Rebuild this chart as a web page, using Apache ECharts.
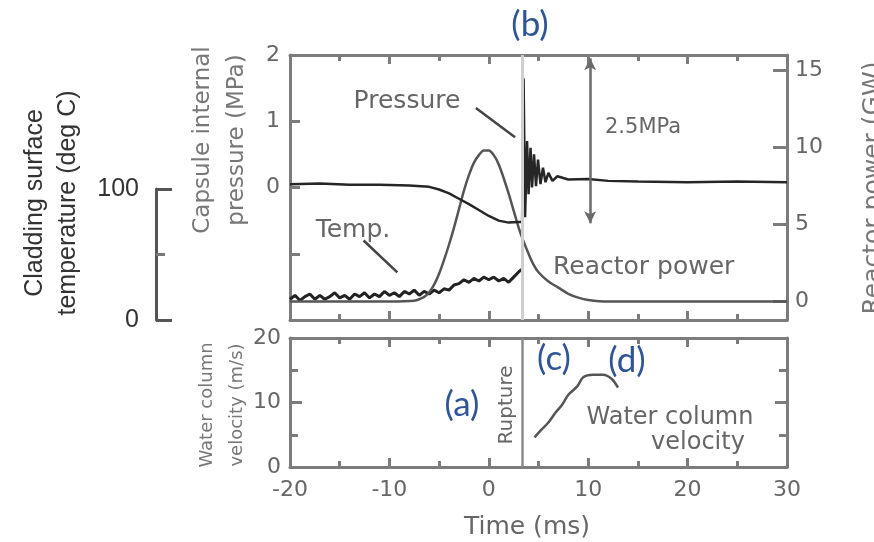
<!DOCTYPE html>
<html><head><meta charset="utf-8">
<script src="https://cdn.jsdelivr.net/npm/echarts@6/dist/echarts.min.js"></script>
<style>html,body{margin:0;padding:0;background:#fff}#c{width:874px;height:542px}</style>
</head><body><div id="c"></div>
<script>
// ---- data (time in ms) ----
const timeTickLabels = [-20, -10, 0, 10, 20, 30];
const pressureTicks = [0, 1, 2];
const powerTicks = [0, 5, 10, 15];
const velocityTicks = [0, 10, 20];
const tempBracketTicks = [0, 100];

// Capsule internal pressure (MPa): [time, value]
const pressureData = [
  [-20, 0.05], [-17, 0.06], [-14, 0.04], [-11, 0.04], [-8, 0.03], [-6, 0.01], [-5, -0.03],
  [-4, -0.09], [-3, -0.17], [-2, -0.25], [-1, -0.34], [0, -0.43], [1, -0.5], [2, -0.53],
  [3, -0.52], [3.35, -0.52], [3.5, 1.65], [3.65, -0.45], [3.85, 0.7], [4.0, -0.1],
  [4.2, 0.6], [4.35, 0.0], [4.55, 0.5], [4.75, 0.02], [4.95, 0.42], [5.2, 0.05],
  [5.45, 0.3], [5.7, 0.08], [6.0, 0.22], [6.4, 0.1], [6.9, 0.17], [8, 0.12], [10, 0.13],
  [12, 0.1], [15, 0.09], [20, 0.08], [25, 0.09], [30, 0.08]
];
// Reactor power (GW): [time, value]
const powerData = [
  [-20, 0], [-10, 0], [-7.5, 0.05], [-6.5, 0.3], [-6, 0.6], [-5.5, 1.1], [-5, 1.8], [-4.5, 2.7],
  [-4, 3.7], [-3.5, 4.8], [-3, 6.0], [-2.5, 7.2], [-2, 8.2], [-1.5, 9.0], [-1, 9.5], [-0.5, 9.8],
  [0, 9.8], [0.5, 9.5], [1, 8.9], [1.5, 8.0], [2, 7.0], [2.5, 5.9], [3, 4.8], [3.5, 3.9],
  [4, 3.1], [4.5, 2.4], [5, 1.9], [6, 1.3], [7, 0.9], [8, 0.5], [9, 0.25], [10, 0.1], [12, 0], [30, 0]
];
// Cladding surface temperature (deg C): [time, value]
const tempData = [
  [-20, 16], [-19.5, 19], [-19, 15], [-18.5, 18], [-18, 20], [-17.5, 16], [-17, 19], [-16.5, 16],
  [-16, 18], [-15.5, 21], [-15, 17], [-14.5, 19], [-14, 16], [-13.5, 20], [-13, 18], [-12.5, 21],
  [-12, 17], [-11.5, 20], [-11, 18], [-10.5, 22], [-10, 19], [-9.5, 21], [-9, 18], [-8.5, 22],
  [-8, 20], [-7.5, 23], [-7, 19], [-6.5, 22], [-6, 20], [-5.5, 23], [-5, 21], [-4.5, 24],
  [-4, 23], [-3.5, 27], [-3, 28], [-2.5, 31], [-2, 29], [-1.5, 32], [-1, 30], [-0.5, 33],
  [0, 31], [0.5, 33], [1, 30], [1.5, 32], [2, 29], [2.5, 33], [3, 37], [3.3, 39]
];
// Water column velocity (m/s): [time, value]
const velocityData = [
  [4.6, 4.6], [5.3, 5.8], [6.0, 6.9], [6.7, 8.4], [7.4, 9.7], [8.0, 11.2], [8.9, 12.5],
  [9.5, 13.9], [10.5, 14.3], [11.5, 14.3], [12.4, 13.6], [13.0, 12.3]
];
const ruptureTime = 3.4;
// 2.5 MPa scale arrow: time, pressure from/to
const arrowTime = 10.2;
const arrowRange = [1.95, -0.54];

// ---- styles ----
const AX = '#7c7c7c';
const TXT = '#666';
const BLUE = '#2f5597';
const tickFont = {fontFamily: 'DejaVu Sans', fontSize: 22, color: TXT};

function xAxisCfg(grid, pos, labels) {
  return {
    type: 'value', gridIndex: grid, position: pos, min: -20, max: 30, interval: 10,
    axisLine: {show: true, onZero: false, lineStyle: {color: AX, width: 3}},
    axisTick: {show: true, inside: true, length: 9, lineStyle: {color: AX, width: 3}},
    minorTick: {show: true, splitNumber: 2, length: 6, lineStyle: {color: AX, width: 3}},
    splitLine: {show: false},
    axisLabel: labels ? Object.assign({show: true, margin: 12,
      customValues: timeTickLabels}, tickFont) : {show: false}
  };
}

const option = {
  animation: false,
  backgroundColor: '#fff',
  grid: [
    {left: 290, top: 55, width: 497, height: 265},
    {left: 290, top: 338, width: 497, height: 129},
    {left: 156, top: 189, width: 20, height: 131}
  ],
  xAxis: [
    xAxisCfg(0, 'bottom', false),
    xAxisCfg(0, 'top', false),
    xAxisCfg(1, 'bottom', true),
    xAxisCfg(1, 'top', false),
    {type: 'value', gridIndex: 2, show: false, min: 0, max: 1}
  ],
  yAxis: [
    { // pressure
      type: 'value', gridIndex: 0, position: 'left', min: -2, max: 2, interval: 1,
      axisLine: {show: true, onZero: false, lineStyle: {color: AX, width: 3}},
      axisTick: {show: true, inside: true, length: 10, lineStyle: {color: AX, width: 3}},
      splitLine: {show: false},
      axisLabel: Object.assign({margin: 10, customValues: pressureTicks}, tickFont)
    },
    { // reactor power
      type: 'value', gridIndex: 0, position: 'right', min: -1.2, max: 16,
      axisLine: {show: true, onZero: false, lineStyle: {color: AX, width: 3}},
      axisTick: {show: true, inside: true, length: 14, customValues: powerTicks, lineStyle: {color: AX, width: 3}},
      splitLine: {show: false},
      axisLabel: Object.assign({margin: 8, customValues: powerTicks}, tickFont)
    },
    { // temperature (hidden, scale only)
      type: 'value', gridIndex: 0, show: false, min: 0, max: 204,
      axisLine: {onZero: false}
    },
    { // water column velocity
      type: 'value', gridIndex: 1, position: 'left', min: 0, max: 20, interval: 10,
      axisLine: {show: true, onZero: false, lineStyle: {color: AX, width: 3}},
      axisTick: {show: true, inside: true, length: 12, lineStyle: {color: AX, width: 3}},
      minorTick: {show: true, splitNumber: 2, length: 8, lineStyle: {color: AX, width: 3}},
      splitLine: {show: false},
      axisLabel: Object.assign({margin: 9, customValues: velocityTicks}, tickFont)
    },
    {
      type: 'value', gridIndex: 1, position: 'right', min: 0, max: 20, interval: 10,
      axisLine: {show: true, onZero: false, lineStyle: {color: AX, width: 3}},
      axisTick: {show: true, inside: true, length: 12, lineStyle: {color: AX, width: 3}},
      minorTick: {show: true, splitNumber: 2, length: 8, lineStyle: {color: AX, width: 3}},
      splitLine: {show: false},
      axisLabel: {show: false}
    },
    { // cladding temperature bracket 0-100
      type: 'value', gridIndex: 2, position: 'left', min: 0, max: 100, interval: 100,
      axisLine: {show: true, onZero: false, lineStyle: {color: '#555', width: 3}},
      axisTick: {show: true, inside: true, length: 16, lineStyle: {color: '#555', width: 3}},
      minorTick: {show: true, splitNumber: 2, length: 9, lineStyle: {color: '#777', width: 3}},
      splitLine: {show: false},
      axisLabel: {margin: 17, fontFamily: 'Liberation Sans', fontSize: 25, color: '#333',
        customValues: tempBracketTicks}
    }
  ],
  series: [
    {
      name: 'Temp.', type: 'line', xAxisIndex: 0, yAxisIndex: 2, data: tempData,
      showSymbol: false, lineStyle: {color: '#222', width: 3}, z: 2
    },
    {
      name: 'Reactor power', type: 'line', xAxisIndex: 0, yAxisIndex: 1, data: powerData,
      showSymbol: false, smooth: 0.3, lineStyle: {color: '#555', width: 2.5}, z: 3
    },
    {
      name: 'Pressure', type: 'line', xAxisIndex: 0, yAxisIndex: 0, data: pressureData,
      showSymbol: false, lineStyle: {color: '#262626', width: 2.5}, z: 4,
      markLine: {
        silent: true, symbol: ['none', 'none'], label: {show: false},
        data: [
          {xAxis: ruptureTime, lineStyle: {color: '#cfcfcf', width: 3, type: 'solid'}},
          [{coord: [arrowTime, arrowRange[0]], symbol: 'arrow', symbolSize: [9, 12]},
           {coord: [arrowTime, arrowRange[1]], symbol: 'arrow', symbolSize: [9, 12],
            lineStyle: {color: '#6a6a6a', width: 2.5, type: 'solid'}}],
          [{coord: [-1.3, 1.2]}, {coord: [2.64, 0.76], lineStyle: {color: '#444', width: 2.5, type: 'solid'}}],
          [{coord: [-12.6, -0.8]}, {coord: [-9.2, -1.28], lineStyle: {color: '#444', width: 2.5, type: 'solid'}}]
        ]
      }
    },
    {
      name: 'Water column velocity', type: 'line', xAxisIndex: 2, yAxisIndex: 3, data: velocityData,
      showSymbol: false, smooth: 0.3, lineStyle: {color: '#555', width: 2.5}, z: 4,
      markLine: {
        silent: true, symbol: ['none', 'none'], label: {show: false},
        lineStyle: {color: '#8a8a8a', width: 2.5, type: 'solid'},
        data: [{xAxis: ruptureTime}]
      }
    }
  ],
  graphic: [
    {type: 'text', x: 530, y: 25, style: {text: '(b)', font: '35px Lato', fill: BLUE, textAlign: 'center', textVerticalAlign: 'middle'}},
    {type: 'text', x: 462, y: 405, style: {text: '(a)', font: '35px Lato', fill: BLUE, textAlign: 'center', textVerticalAlign: 'middle'}},
    {type: 'text', x: 554, y: 359, style: {text: '(c)', font: '35px Lato', fill: BLUE, textAlign: 'center', textVerticalAlign: 'middle'}},
    {type: 'text', x: 627, y: 361, style: {text: '(d)', font: '35px Lato', fill: BLUE, textAlign: 'center', textVerticalAlign: 'middle'}},
    {type: 'text', x: 52, y: 203, rotation: Math.PI / 2,
      style: {text: 'Cladding surface\ntemperature (deg C)', font: '25px "Liberation Sans"', lineHeight: 33, fill: '#333', textAlign: 'center', textVerticalAlign: 'middle'}},
    {type: 'text', x: 220, y: 140, rotation: Math.PI / 2,
      style: {text: 'Capsule internal\npressure (MPa)', font: '23px "DejaVu Sans"', lineHeight: 34, fill: '#777', textAlign: 'center', textVerticalAlign: 'middle'}},
    {type: 'text', x: 873, y: 188, rotation: Math.PI / 2,
      style: {text: 'Reactor power (GW)', font: '25px "DejaVu Sans"', fill: '#777', textAlign: 'center', textVerticalAlign: 'middle'}},
    {type: 'text', x: 222, y: 405, rotation: Math.PI / 2,
      style: {text: 'Water column\nvelocity (m/s)', font: '18px "DejaVu Sans"', lineHeight: 30, fill: '#777', textAlign: 'center', textVerticalAlign: 'middle'}},
    {type: 'text', x: 407, y: 101, style: {text: 'Pressure', font: '25px "DejaVu Sans"', fill: TXT, textAlign: 'center', textVerticalAlign: 'middle'}},
    {type: 'text', x: 353, y: 230, style: {text: 'Temp.', font: '25px "DejaVu Sans"', fill: TXT, textAlign: 'center', textVerticalAlign: 'middle'}},
    {type: 'text', x: 553, y: 267, style: {text: 'Reactor power', font: '25px "DejaVu Sans"', fill: TXT, textAlign: 'left', textVerticalAlign: 'middle'}},
    {type: 'text', x: 605, y: 128, style: {text: '2.5MPa', font: '21px "DejaVu Sans"', fill: TXT, textAlign: 'left', textVerticalAlign: 'middle'}},
    {type: 'text', x: 670, y: 418, style: {text: 'Water column', font: '24px "DejaVu Sans"', fill: TXT, textAlign: 'center', textVerticalAlign: 'middle'}},
    {type: 'text', x: 698, y: 443, style: {text: 'velocity', font: '24px "DejaVu Sans"', fill: TXT, textAlign: 'center', textVerticalAlign: 'middle'}},
    {type: 'text', x: 507, y: 405, rotation: Math.PI / 2,
      style: {text: 'Rupture', font: '20px "DejaVu Sans"', fill: TXT, textAlign: 'center', textVerticalAlign: 'middle'}},
    {type: 'text', x: 527, y: 527, style: {text: 'Time (ms)', font: '25px "DejaVu Sans"', fill: TXT, textAlign: 'center', textVerticalAlign: 'middle'}}
  ]
};

const chart = echarts.init(document.getElementById('c'), null, {renderer: 'canvas'});
chart.setOption(option);
</script>
</body></html>
